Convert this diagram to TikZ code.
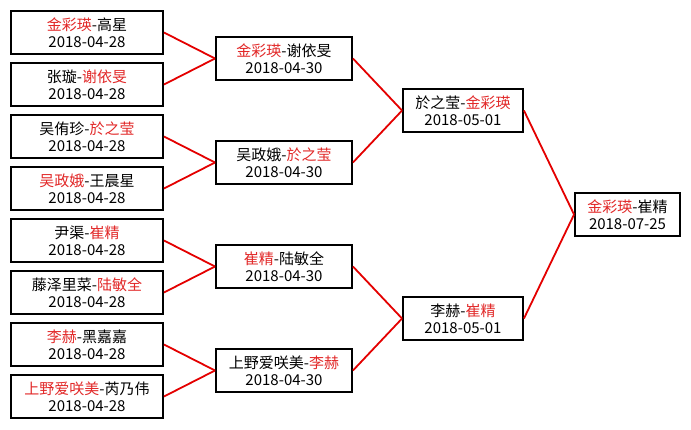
\documentclass[tikz,border=0pt]{standalone}
\usepackage{fontspec}
\setmainfont{Noto Sans CJK SC}
\definecolor{winred}{RGB}{226,40,40}
\definecolor{linkred}{RGB}{228,0,0}
\newcommand{\win}[1]{\textcolor{winred}{#1}}
\begin{document}
\begin{tikzpicture}[x=1pt,y=-1pt,line join=miter,
  game/.style={draw,line width=1.9pt,minimum height=43pt,inner sep=0pt,align=center,font=\fontsize{15}{17}\selectfont},
  link/.style={linkred,line width=1.8pt}]
  \useasboundingbox[fill=white] (0,0) rectangle (691,429);
  \foreach \i/\t in {1/{\win{金彩瑛}-高星},2/{张璇-\win{谢依旻}},3/{吴侑珍-\win{於之莹}},4/{\win{吴政娥}-王晨星},
    5/{尹渠-\win{崔精}},6/{藤泽里菜-\win{陆敏全}},7/{\win{李赫}-黑嘉嘉},8/{\win{上野爱咲美}-芮乃伟}}{
    \node[game,minimum width=152pt] (p\i) at (87,{32.5+52*(\i-1)}) {\t\\2018-04-28};}
  \foreach \i/\t in {1/{\win{金彩瑛}-谢依旻},2/{吴政娥-\win{於之莹}},3/{\win{崔精}-陆敏全},4/{上野爱咲美-\win{李赫}}}{
    \node[game,minimum width=136pt] (q\i) at (284,{58.5+104*(\i-1)}) {\t\\2018-04-30};}
  \node[game,minimum width=120pt] (s1) at (463,110.5) {於之莹-\win{金彩瑛}\\2018-05-01};
  \node[game,minimum width=120pt] (s2) at (463,318.5) {李赫-\win{崔精}\\2018-05-01};
  \node[game,minimum width=105pt] (f) at (627.5,214.5) {\win{金彩瑛}-崔精\\2018-07-25};
  \foreach \a/\b in {p1/q1,p2/q1,p3/q2,p4/q2,p5/q3,p6/q3,p7/q4,p8/q4,q1/s1,q2/s1,q3/s2,q4/s2,s1/f,s2/f}
    \draw[link] (\a.east) -- (\b.west);
\end{tikzpicture}
\end{document}
